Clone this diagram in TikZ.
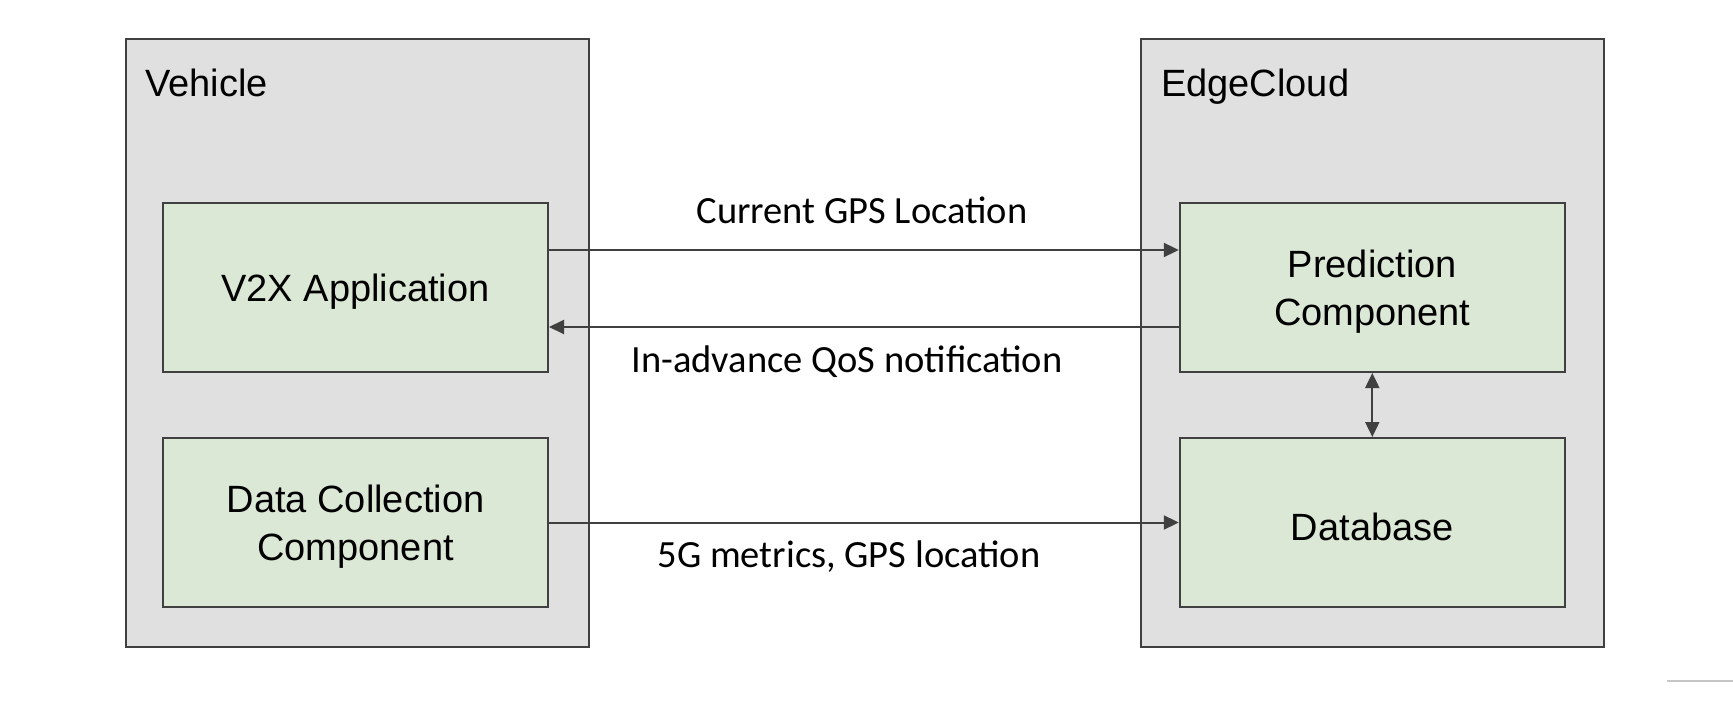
\documentclass[tikz,border=0pt]{standalone}
\usepackage{fontspec}
\setmainfont{Liberation Sans}
\newfontfamily\calib{Carlito}
\usetikzlibrary{arrows.meta}
\definecolor{outerfill}{HTML}{E0E0E0}
\definecolor{innerfill}{HTML}{DCE8D6}
\definecolor{edgecol}{HTML}{404040}
\tikzset{
  outerbox/.style={draw=edgecol, fill=outerfill, line width=2pt, inner sep=0pt,
    minimum width=463pt, minimum height=608pt},
  innerbox/.style={draw=edgecol, fill=innerfill, line width=2pt, inner sep=0pt,
    minimum width=385pt, minimum height=169pt},
  boxtext/.style={align=center, inner sep=0pt, font=\fontsize{38}{48}\selectfont},
  title/.style={anchor=base west, inner sep=0pt, font=\fontsize{38}{48}\selectfont},
  tip/.style={Triangle[length=15pt,width=14pt]},
  conn/.style={draw=edgecol, line width=2pt, -{Triangle[length=15pt,width=14pt]}},
  bconn/.style={draw=edgecol, line width=2pt, {Triangle[length=15pt,width=14pt]}-{Triangle[length=15pt,width=14pt]}},
  lbl/.style={anchor=base, inner sep=0pt, font=\calib\fontsize{38.5}{44}\selectfont}
}
\begin{document}
\begin{tikzpicture}[x=1pt,y=-1pt]
\useasboundingbox (0,0) rectangle (1733,706);
% outer containers
\node[outerbox] (veh) at (357.5,343) {};
\node[outerbox] (edge) at (1372.5,343) {};
\node[title] (vehlbl) at (145,97) {Vehicle};
\node[title] (edgelbl) at (1161,97) {EdgeCloud};
% inner components
\node[innerbox, label={[boxtext, yshift=-4.5pt]center:V2X Application}] (v2x) at (355.5,287.5) {};
\node[innerbox, label={[boxtext, yshift=-4.5pt]center:Data Collection\\Component}] (dcc) at (355.5,522.5) {};
\node[innerbox, label={[boxtext, yshift=-4.5pt]center:Prediction\\Component}] (pred) at (1372.3,287.5) {};
\node[innerbox, label={[boxtext, yshift=-4.5pt]center:Database}] (db) at (1372.3,522.5) {};
% connectors
\draw[conn] ([yshift=37.5pt]v2x.east) -- ([yshift=37.5pt]pred.west);
\draw[conn] ([yshift=-39.5pt]pred.west) -- ([yshift=-39.5pt]v2x.east);
\draw[conn] (dcc.east) -- (db.west);
\draw[bconn] (pred.south) -- (db.north);
% labels
\node[lbl] (l1) at (862,223) {Current GPS Location};
\node[lbl] (l2) at (847,372) {In-advance QoS notification};
\node[lbl] (l3) at (849,567) {5G metrics, GPS location};
% stray line at bottom right
\coordinate (s1) at (1667,681);
\coordinate (s2) at (1733,681);
\draw[color=black!22, line width=1.5pt] (s1) -- (s2);
\end{tikzpicture}
\end{document}
